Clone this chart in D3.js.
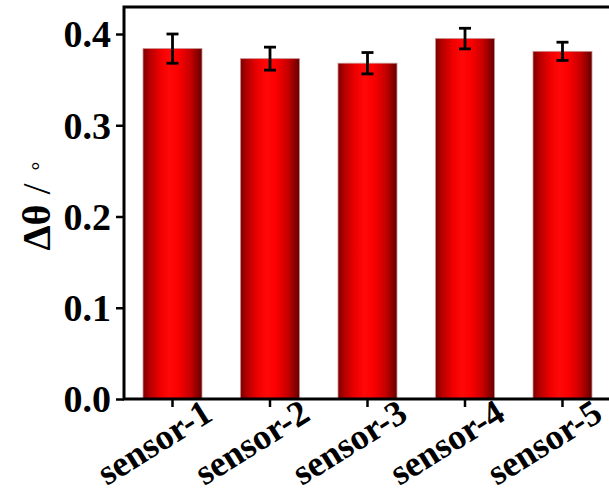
<!DOCTYPE html>
<html><head><meta charset="utf-8">
<script src="https://cdn.jsdelivr.net/npm/d3@7"></script>
<style>body{margin:0;background:#fff;}svg{display:block;}</style>
</head><body>
<svg id="c" width="609" height="503"></svg>
<script>
const categories = ["sensor-1","sensor-2","sensor-3","sensor-4","sensor-5"];
const values = [0.384, 0.373, 0.368, 0.395, 0.381];
const errors = [0.016, 0.0126, 0.0117, 0.0113, 0.010];
const yTicks = [0.0, 0.1, 0.2, 0.3, 0.4];
const yTitleMain = "Δθ";
const yTitleSlash = " / ";
const yTitleUnit = "∘";

(function(){
const svg = d3.select("#c");
const mLeft = 124, mRight = 611, mTop = 7, mBottom = 399;
const font = "'Liberation Serif','Times New Roman',serif";

const x = d3.scaleBand().domain(categories).range([mLeft, mRight]).paddingInner(0.395).paddingOuter(0.195);
const y = d3.scaleLinear().domain([0, 0.4296]).range([mBottom, mTop]);

const defs = svg.append("defs");
const g = defs.append("linearGradient").attr("id","barg").attr("x1","0").attr("x2","1").attr("y1","0").attr("y2","0");
[[0,"#7e0000"],[0.12,"#b80000"],[0.3,"#f00000"],[0.45,"#ff0808"],[0.6,"#fb0000"],[0.8,"#c80000"],[1,"#650000"]]
  .forEach(([o,c]) => g.append("stop").attr("offset",o).attr("stop-color",c));

// bars
svg.append("g").selectAll("rect").data(categories).join("rect")
  .attr("x", d => x(d)).attr("width", x.bandwidth())
  .attr("y", (d,i) => y(values[i])).attr("height", (d,i) => y(0) - y(values[i]))
  .attr("fill","url(#barg)").attr("stroke","#c89090").attr("stroke-width",0.8);

// error bars
const eb = svg.append("g").attr("stroke","#000").attr("stroke-width",2.8);
categories.forEach((d,i) => {
  const cx = x(d) + x.bandwidth()/2;
  eb.append("line").attr("x1",cx).attr("x2",cx).attr("y1",y(values[i]+errors[i])).attr("y2",y(values[i]-errors[i]));
  [values[i]+errors[i], values[i]-errors[i]].forEach(v =>
    eb.append("line").attr("x1",cx-6).attr("x2",cx+6).attr("y1",y(v)).attr("y2",y(v)));
});

// y axis
const ya = svg.append("g").attr("transform",`translate(${mLeft},0)`)
  .call(d3.axisLeft(y).tickValues(yTicks).tickFormat(d3.format(".1f")).tickSize(8).tickPadding(5));
ya.select(".domain").remove();
ya.selectAll(".tick line").attr("stroke","#000").attr("stroke-width",2.5);
ya.selectAll(".tick text").attr("font-family",font).attr("font-weight","bold").attr("font-size",38).attr("fill","#000").attr("dy","0.34em");

// x axis
const xa = svg.append("g").attr("transform",`translate(0,${mBottom})`)
  .call(d3.axisBottom(x).tickSize(8).tickFormat(""));
xa.select(".domain").remove();
xa.selectAll(".tick line").attr("stroke","#000").attr("stroke-width",2.5);
xa.selectAll(".tick").append("text")
  .text(d => d)
  .attr("font-family",font).attr("font-weight","bold").attr("font-size",36).attr("fill","#000")
  .attr("text-anchor","end")
  .attr("transform","translate(42,20) rotate(-32)");

// frame
const fr = svg.append("g").attr("stroke","#000").attr("stroke-width",3).attr("fill","none");
fr.append("path").attr("d",`M609,${mTop}H${mLeft}V${mBottom}H609`);

// y title
const t = svg.append("text")
  .attr("font-family",font).attr("font-size",40).attr("fill","#000")
  .attr("text-anchor","middle")
  .attr("transform","translate(50,205) rotate(-90)");
t.append("tspan").attr("font-weight","bold").text(yTitleMain);
t.append("tspan").attr("font-weight","normal").text(yTitleSlash);
t.append("tspan").attr("font-weight","normal").attr("font-size",22).attr("dy","-0.35em").text(yTitleUnit);
})();
</script>
</body></html>
